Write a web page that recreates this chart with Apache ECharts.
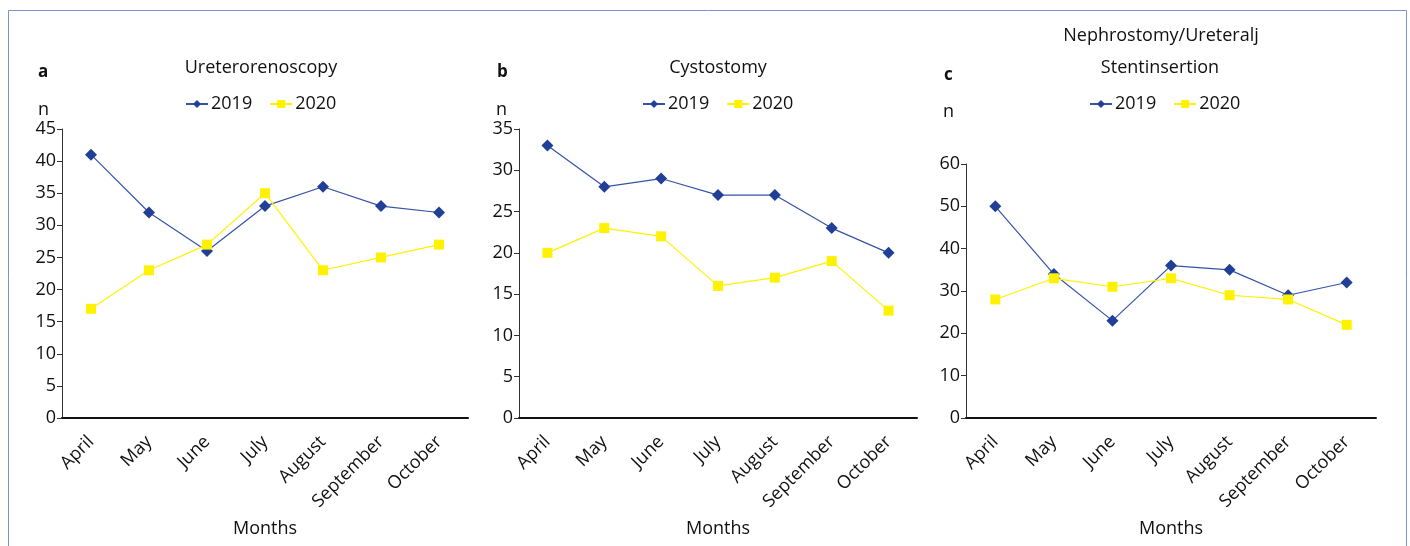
<!DOCTYPE html>
<html>
<head>
<meta charset="utf-8">
<script src="https://cdn.jsdelivr.net/npm/echarts@6/dist/echarts.min.js"></script>
<style>
  html, body { margin: 0; padding: 0; background: #fff; }
  #chart { width: 1410px; height: 546px; }
</style>
</head>
<body>
<div id="chart"></div>
<script>
// months on every x axis
const months = ['April', 'May', 'June', 'July', 'August', 'September', 'October'];

// a: Ureterorenoscopy
const uretero2019 = [41, 32, 26, 33, 36, 33, 32];
const uretero2020 = [17, 23, 27, 35, 23, 25, 27];
// b: Cystostomy
const cysto2019 = [33, 28, 29, 27, 27, 23, 20];
const cysto2020 = [20, 23, 22, 16, 17, 19, 13];
// c: Nephrostomy/Ureteralj Stentinsertion
const nephro2019 = [50, 34, 23, 36, 35, 29, 32];
const nephro2020 = [28, 33, 31, 33, 29, 28, 22];

const yMax = [45, 35, 60];
const yStep = [5, 5, 10];

const FONT = '"Open Sans", "Noto Sans", sans-serif';
const BLUE = '#213f96';
const YELLOW = '#fff200';

const grids = [
    { left: 62, right: 942, top: 129, bottom: 128, outerBoundsMode: 'none', containLabel: false },
    { left: 519, right: 493, top: 129, bottom: 128, outerBoundsMode: 'none', containLabel: false },
    { left: 966, right: 34, top: 164, bottom: 128, outerBoundsMode: 'none', containLabel: false }
];

let chart = echarts.init(document.getElementById('chart'));

function xAxisFor(i) {
    return {
        type: 'category',
        gridIndex: i,
        data: months,
        boundaryGap: true,
        name: 'Months',
        nameLocation: 'middle',
        nameGap: 102,
        nameTextStyle: { color: '#111', fontSize: 18, fontFamily: FONT },
        axisLine: { lineStyle: { color: '#111', width: 2 } },
        axisTick: { show: false },
        axisLabel: {
            interval: 0,
            rotate: 45,
            margin: 21,
            color: '#111',
            fontSize: 18,
            fontFamily: FONT
        }
    };
}

function yAxisFor(i) {
    return {
        type: 'value',
        gridIndex: i,
        min: 0,
        max: yMax[i],
        interval: yStep[i],
        splitLine: { show: false },
        axisLine: { show: true, lineStyle: { color: '#333', width: 1 } },
        axisTick: { show: true, length: 5, lineStyle: { color: '#333' } },
        axisLabel: { color: '#111', fontSize: 18, fontFamily: FONT, margin: 6 }
    };
}

function lineSeries(name, i, data, isBlue) {
    return {
        name: name,
        type: 'line',
        xAxisIndex: i,
        yAxisIndex: i,
        data: data,
        symbol: isBlue ? 'diamond' : 'rect',
        symbolSize: isBlue ? 12 : 10,
        showSymbol: true,
        animation: false,
        itemStyle: { color: isBlue ? BLUE : YELLOW, borderWidth: 0 },
        lineStyle: { color: isBlue ? '#3653a8' : YELLOW, width: 1.2 }
    };
}

function legendFor(x) {
    return {
        left: x,
        top: 90,
        data: ['2019', '2020'],
        itemWidth: 22,
        itemHeight: 10,
        itemGap: 17,
        textStyle: { color: '#111', fontSize: 18, fontFamily: FONT, padding: [0, 0, 0, -2] }
    };
}

const titleStyle = { color: '#111', fontSize: 18, fontWeight: 'normal', fontFamily: FONT };
const letterStyle = { color: '#111', fontSize: 17, fontWeight: 'bold', fontFamily: FONT };

chart.setOption({
    backgroundColor: '#fff',
    title: [
        { text: 'a', left: 38, top: 64, textStyle: letterStyle, padding: 0 },
        { text: 'b', left: 497, top: 64, textStyle: letterStyle, padding: 0 },
        { text: 'c', left: 944, top: 67, textStyle: letterStyle, padding: 0 },
        { text: 'n', left: 38, top: 101, textStyle: titleStyle, padding: 0 },
        { text: 'n', left: 496, top: 101, textStyle: titleStyle, padding: 0 },
        { text: 'n', left: 943, top: 103, textStyle: titleStyle, padding: 0 },
        { text: 'Ureterorenoscopy', left: 261, top: 59, textAlign: 'center', textStyle: titleStyle, padding: 0 },
        { text: 'Cystostomy', left: 718, top: 59, textAlign: 'center', textStyle: titleStyle, padding: 0 },
        { text: 'Nephrostomy/Ureteralj', left: 1161, top: 27, textAlign: 'center', textStyle: titleStyle, padding: 0 },
        { text: 'Stentinsertion', left: 1160, top: 59, textAlign: 'center', textStyle: titleStyle, padding: 0 }
    ],
    legend: [legendFor(180), legendFor(637), legendFor(1084)],
    graphic: [{
        type: 'rect',
        shape: { x: 8.5, y: 10.5, width: 1398, height: 560 },
        style: { fill: 'none', stroke: '#7d92cf', lineWidth: 1 },
        silent: true
    }],
    grid: grids,
    xAxis: [xAxisFor(0), xAxisFor(1), xAxisFor(2)],
    yAxis: [yAxisFor(0), yAxisFor(1), yAxisFor(2)],
    series: [
        lineSeries('2019', 0, uretero2019, true),
        lineSeries('2020', 0, uretero2020, false),
        lineSeries('2019', 1, cysto2019, true),
        lineSeries('2020', 1, cysto2020, false),
        lineSeries('2019', 2, nephro2019, true),
        lineSeries('2020', 2, nephro2020, false)
    ]
});
</script>
</body>
</html>
